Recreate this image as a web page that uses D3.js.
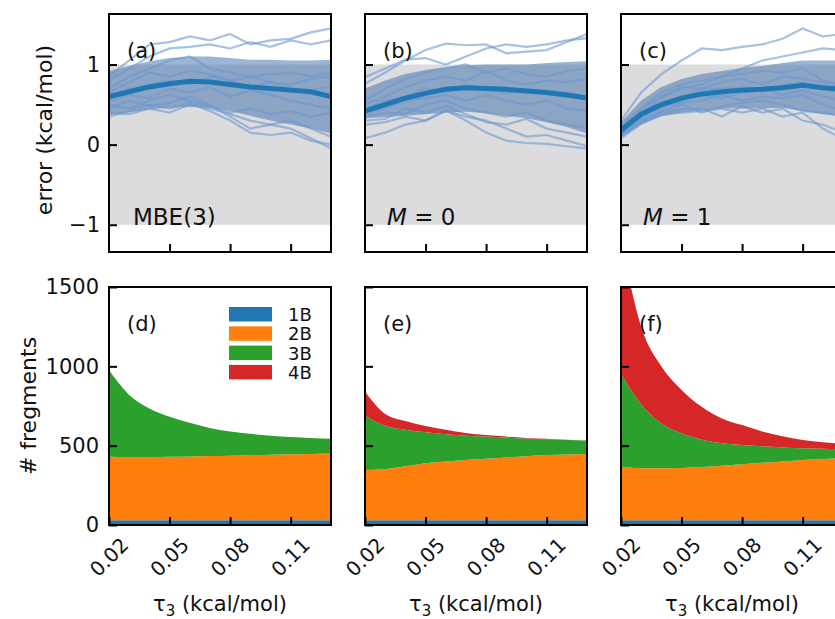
<!DOCTYPE html>
<html>
<head>
<meta charset="utf-8">
<script src="https://cdn.jsdelivr.net/npm/d3@7"></script>
<style>
body { margin: 0; background: #fff; }
text { font-family: "DejaVu Sans", sans-serif; fill: #111; }
</style>
</head>
<body>
<svg width="835" height="619"></svg>
<script>
// thresholds tau_3 (kcal/mol)
var tau = [0.02, 0.03, 0.04, 0.05, 0.06, 0.07, 0.08, 0.09, 0.10, 0.11, 0.12, 0.13];
var xTicks = [0.02, 0.05, 0.08, 0.11];
var errTicks = [-1, 0, 1];
var countTicks = [0, 500, 1000, 1500];
var bodies = ["1B", "2B", "3B", "4B"];
var bodyColors = ["#1f77b4", "#ff7f0e", "#2ca02c", "#d62728"];
var panelTags = ["(a)", "(b)", "(c)"];
var panelTagsBottom = ["(d)", "(e)", "(f)"];
var methods = ["MBE(3)", "M = 0", "M = 1"];

// (a) MBE(3)
var meanA = [0.60, 0.66, 0.72, 0.76, 0.79, 0.78, 0.75, 0.72, 0.70, 0.68, 0.66, 0.60];
var lowA  = [0.37, 0.40, 0.44, 0.46, 0.47, 0.46, 0.42, 0.36, 0.30, 0.25, 0.20, 0.14];
var highA = [0.92, 0.98, 1.04, 1.08, 1.10, 1.10, 1.08, 1.06, 1.06, 1.05, 1.05, 1.06];
var tracesA = [
  [0.85, 1.05, 1.25, 1.28, 1.35, 1.30, 1.38, 1.25, 1.30, 1.32, 1.40, 1.45],
  [0.80, 0.95, 1.10, 1.20, 1.22, 1.25, 1.20, 1.28, 1.22, 1.30, 1.25, 1.30],
  [0.70, 0.85, 0.95, 1.05, 1.10, 0.95, 0.90, 0.85, 0.88, 0.90, 0.85, 0.90],
  [0.65, 0.78, 0.90, 0.85, 0.92, 0.88, 0.80, 0.85, 0.78, 0.75, 0.82, 0.85],
  [0.60, 0.70, 0.75, 0.80, 0.75, 0.85, 0.80, 0.72, 0.78, 0.70, 0.68, 0.72],
  [0.55, 0.62, 0.58, 0.70, 0.65, 0.72, 0.60, 0.68, 0.62, 0.55, 0.50, 0.45],
  [0.50, 0.45, 0.55, 0.62, 0.55, 0.48, 0.40, 0.45, 0.38, 0.42, 0.35, 0.40],
  [0.45, 0.55, 0.48, 0.52, 0.60, 0.50, 0.35, 0.20, 0.25, 0.30, 0.20, 0.10],
  [0.35, 0.42, 0.50, 0.45, 0.52, 0.42, 0.30, 0.15, 0.12, 0.15, 0.05, 0.00],
  [0.40, 0.38, 0.45, 0.40, 0.50, 0.45, 0.38, 0.30, 0.25, 0.20, 0.08, -0.05]
];

// (b) M = 0
var meanB = [0.42, 0.50, 0.58, 0.64, 0.69, 0.71, 0.70, 0.69, 0.67, 0.65, 0.62, 0.58];
var lowB  = [0.33, 0.34, 0.36, 0.38, 0.40, 0.41, 0.39, 0.36, 0.33, 0.28, 0.22, 0.14];
var highB = [0.70, 0.80, 0.88, 0.93, 0.97, 0.99, 1.00, 1.00, 1.00, 1.02, 1.03, 1.04];
var tracesB = [
  [0.76, 0.90, 1.05, 1.18, 1.26, 1.24, 1.25, 1.14, 1.16, 1.18, 1.28, 1.38],
  [0.84, 0.95, 1.06, 1.08, 1.00, 1.10, 1.20, 1.25, 1.22, 1.25, 1.30, 1.33],
  [0.55, 0.70, 0.82, 0.90, 0.95, 1.00, 0.90, 0.95, 0.88, 0.85, 0.92, 0.95],
  [0.50, 0.60, 0.72, 0.80, 0.85, 0.80, 0.92, 0.80, 0.75, 0.80, 0.78, 0.82],
  [0.45, 0.55, 0.60, 0.70, 0.66, 0.75, 0.70, 0.64, 0.70, 0.62, 0.65, 0.60],
  [0.40, 0.45, 0.55, 0.58, 0.62, 0.55, 0.62, 0.55, 0.50, 0.55, 0.45, 0.42],
  [0.35, 0.40, 0.38, 0.50, 0.55, 0.45, 0.40, 0.35, 0.40, 0.30, 0.25, 0.20],
  [0.30, 0.32, 0.45, 0.40, 0.48, 0.38, 0.28, 0.25, 0.32, 0.20, 0.15, 0.10],
  [0.25, 0.28, 0.35, 0.30, 0.42, 0.35, 0.30, 0.20, 0.10, 0.12, 0.05, -0.02],
  [0.08, 0.15, 0.25, 0.30, 0.43, 0.30, 0.15, 0.05, 0.02, 0.01, -0.02, -0.05]
];

// (c) M = 1
var meanC = [0.18, 0.38, 0.50, 0.58, 0.63, 0.66, 0.68, 0.69, 0.71, 0.74, 0.71, 0.69];
var lowC  = [0.10, 0.25, 0.35, 0.40, 0.43, 0.45, 0.45, 0.45, 0.46, 0.42, 0.38, 0.36];
var highC = [0.28, 0.55, 0.72, 0.82, 0.88, 0.92, 0.96, 0.98, 1.02, 1.05, 1.05, 1.05];
var tracesC = [
  [0.30, 0.65, 0.88, 1.05, 1.20, 1.18, 1.22, 1.25, 1.32, 1.45, 1.35, 1.38],
  [0.25, 0.45, 0.60, 0.70, 0.75, 0.85, 0.95, 1.05, 1.10, 1.15, 1.20, 1.18],
  [0.22, 0.45, 0.65, 0.75, 0.80, 0.85, 0.88, 0.92, 0.90, 0.95, 0.80, 0.75],
  [0.20, 0.40, 0.58, 0.72, 0.70, 0.78, 0.82, 0.75, 0.85, 0.82, 0.78, 0.72],
  [0.18, 0.38, 0.50, 0.60, 0.68, 0.70, 0.72, 0.68, 0.74, 0.78, 0.70, 0.65],
  [0.16, 0.36, 0.46, 0.55, 0.62, 0.58, 0.65, 0.70, 0.62, 0.68, 0.60, 0.55],
  [0.14, 0.32, 0.48, 0.52, 0.55, 0.62, 0.55, 0.60, 0.58, 0.62, 0.50, 0.42],
  [0.12, 0.30, 0.42, 0.50, 0.40, 0.48, 0.52, 0.55, 0.50, 0.42, 0.40, 0.35],
  [0.10, 0.28, 0.40, 0.44, 0.45, 0.35, 0.48, 0.40, 0.45, 0.30, 0.25, 0.15],
  [0.08, 0.26, 0.38, 0.40, 0.42, 0.45, 0.40, 0.45, 0.35, 0.40, 0.20, 0.07]
];

// fragment counts per body order
var oneB_d = [30, 30, 30, 30, 30, 30, 30, 30, 30, 30, 30, 30];
var twoB_d = [400, 398, 398, 400, 402, 405, 407, 410, 413, 416, 418, 420];
var threeB_d = [545, 392, 307, 253, 213, 177, 153, 135, 120, 109, 100, 93];
var fourB_d = [0, 0, 0, 0, 0, 0, 0, 0, 0, 0, 0, 0];

var oneB_e = [30, 30, 30, 30, 30, 30, 30, 30, 30, 30, 30, 30];
var twoB_e = [317, 322, 340, 359, 370, 380, 388, 396, 404, 411, 415, 418];
var threeB_e = [342, 273, 230, 195, 172, 153, 139, 125, 111, 99, 91, 84];
var fourB_e = [151, 75, 55, 40, 28, 17, 10, 6, 4, 4, 2, 1];

var oneB_f = [30, 30, 30, 30, 30, 30, 30, 30, 30, 30, 30, 30];
var twoB_f = [338, 327, 327, 330, 336, 344, 353, 362, 371, 380, 386, 390];
var threeB_f = [584, 403, 283, 218, 172, 141, 121, 104, 88, 74, 65, 58];
var fourB_f = [848, 490, 360, 273, 207, 157, 126, 94, 71, 52, 41, 34];

var svg = d3.select("svg");

var lefts = [109, 365, 621],
    pw = 222,
    topY = [14, 252],
    botY = [287, 525];

var errData = [
  {mean: meanA, low: lowA, high: highA, traces: tracesA},
  {mean: meanB, low: lowB, high: highB, traces: tracesB},
  {mean: meanC, low: lowC, high: highC, traces: tracesC}
];
var countData = [
  [oneB_d, twoB_d, threeB_d, fourB_d],
  [oneB_e, twoB_e, threeB_e, fourB_e],
  [oneB_f, twoB_f, threeB_f, fourB_f]
];

var yErr = d3.scaleLinear().domain([-1.34, 1.63]).range([topY[1], topY[0]]);
var yCnt = d3.scaleLinear().domain([0, 1500]).range([botY[1], botY[0]]);

var defs = svg.append("defs");

lefts.forEach(function(left, i) {
  var x = d3.scaleLinear().domain([0.02, 0.13]).range([left, left + pw]);

  defs.append("clipPath").attr("id", "clipT" + i)
    .append("rect").attr("x", left).attr("y", topY[0]).attr("width", pw).attr("height", topY[1] - topY[0]);
  defs.append("clipPath").attr("id", "clipB" + i)
    .append("rect").attr("x", left).attr("y", botY[0]).attr("width", pw).attr("height", botY[1] - botY[0]);

  // ---- top row: error curves
  var d = errData[i];
  var g = svg.append("g").attr("clip-path", "url(#clipT" + i + ")");

  g.append("rect")
    .attr("x", left).attr("width", pw)
    .attr("y", yErr(1)).attr("height", yErr(-1) - yErr(1))
    .attr("fill", "#dcdcde");

  g.append("path")
    .datum(tau)
    .attr("fill", "#4a78b0")
    .attr("fill-opacity", 0.55)
    .attr("d", d3.area()
      .x(function(t) { return x(t); })
      .y0(function(t, j) { return yErr(d.low[j]); })
      .y1(function(t, j) { return yErr(d.high[j]); }));

  var line = function(vals) {
    return d3.line()
      .x(function(t) { return x(t); })
      .y(function(t, j) { return yErr(vals[j]); })(tau);
  };

  g.selectAll(".trace")
    .data(d.traces)
    .enter().append("path")
    .attr("class", "trace")
    .attr("fill", "none")
    .attr("stroke", "#6d98cf")
    .attr("stroke-opacity", 0.6)
    .attr("stroke-width", 2.2)
    .attr("d", line);

  g.append("path")
    .attr("fill", "none")
    .attr("stroke", "#1f77b4")
    .attr("stroke-width", 5)
    .attr("d", line(d.mean));

  var ay = svg.append("g").attr("transform", "translate(" + left + ",0)")
    .call(d3.axisLeft(yErr).tickValues(errTicks).tickSizeInner(-8).tickSizeOuter(0).tickPadding(9)
      .tickFormat(i == 0 ? function(v) { return v < 0 ? "\u2212" + (-v) : v; } : ""));
  ay.select(".domain").remove();
  ay.selectAll("line").attr("stroke", "#000").attr("stroke-width", 2);
  ay.selectAll("text").attr("font-size", 21).attr("font-family", "DejaVu Sans").attr("fill", "#111");

  var axT = svg.append("g").attr("transform", "translate(0," + topY[1] + ")")
    .call(d3.axisBottom(x).tickValues(xTicks.slice(1)).tickSizeInner(-8).tickSizeOuter(0).tickFormat(""));
  axT.select(".domain").remove();
  axT.selectAll("line").attr("stroke", "#000").attr("stroke-width", 2);

  svg.append("rect")
    .attr("x", left).attr("y", topY[0]).attr("width", pw).attr("height", topY[1] - topY[0])
    .attr("fill", "none").attr("stroke", "#000").attr("stroke-width", 2);

  svg.append("text")
    .attr("x", left + 18).attr("y", topY[0] + 44)
    .attr("font-size", 21)
    .text(panelTags[i]);

  var m = svg.append("text")
    .attr("x", left + (i == 0 ? 24 : 22)).attr("y", 225)
    .attr("font-size", 23);
  if (i == 0) {
    m.text(methods[i]);
  } else {
    m.append("tspan").attr("font-style", "italic").text("M");
    m.append("tspan").text(methods[i].slice(1));
  }

  // ---- bottom row: stacked fragment counts
  var rows = tau.map(function(t, j) {
    var r = {tau: t};
    bodies.forEach(function(b, k) { r[b] = countData[i][k][j]; });
    return r;
  });
  var stack = d3.stack().keys(bodies)(rows);

  var gb = svg.append("g").attr("clip-path", "url(#clipB" + i + ")");
  gb.selectAll(".layer")
    .data(stack)
    .enter().append("path")
    .attr("class", "layer")
    .attr("fill", function(s, k) { return bodyColors[k]; })
    .attr("d", d3.area()
      .curve(d3.curveMonotoneX)
      .x(function(p) { return x(p.data.tau); })
      .y0(function(p) { return yCnt(p[0]); })
      .y1(function(p) { return yCnt(p[1]); }));

  var by = svg.append("g").attr("transform", "translate(" + left + ",0)")
    .call(d3.axisLeft(yCnt).tickValues(countTicks).tickSizeInner(-8).tickSizeOuter(0).tickPadding(10)
      .tickFormat(i == 0 ? d3.format("d") : ""));
  by.select(".domain").remove();
  by.selectAll("line").attr("stroke", "#000").attr("stroke-width", 2);
  by.selectAll("text").attr("font-size", 21).attr("font-family", "DejaVu Sans").attr("fill", "#111");

  var bx = svg.append("g").attr("transform", "translate(0," + botY[1] + ")")
    .call(d3.axisBottom(x).tickValues(xTicks).tickSizeInner(-8).tickSizeOuter(0).tickFormat(""));
  bx.select(".domain").remove();
  bx.selectAll("line").attr("stroke", "#000").attr("stroke-width", 2);

  svg.selectAll(".xl" + i)
    .data(xTicks)
    .enter().append("text")
    .attr("class", "xl" + i)
    .attr("font-size", 20)
    .attr("text-anchor", "middle")
    .attr("dy", "0.35em")
    .attr("transform", function(t) { return "translate(" + x(t) + ",557) rotate(-45)"; })
    .text(function(t) { return t.toFixed(2); });

  svg.append("rect")
    .attr("x", left).attr("y", botY[0]).attr("width", pw).attr("height", botY[1] - botY[0])
    .attr("fill", "none").attr("stroke", "#000").attr("stroke-width", 2);

  svg.append("text")
    .attr("x", left + 18).attr("y", botY[0] + 44)
    .attr("font-size", 21)
    .text(panelTagsBottom[i]);

  var xl = svg.append("text")
    .attr("x", left + pw / 2).attr("y", 611)
    .attr("text-anchor", "middle")
    .attr("font-size", 21);
  xl.append("tspan").text("\u03c4");
  xl.append("tspan").attr("font-size", 15).attr("dy", 5).text("3");
  xl.append("tspan").attr("dy", -5).text(" (kcal/mol)");
});

// legend inside (d)
var legend = svg.append("g").selectAll("g")
  .data(bodies)
  .enter().append("g")
  .attr("transform", function(b, k) { return "translate(229," + (307 + k * 19.3) + ")"; });
legend.append("rect")
  .attr("width", 43).attr("height", 14.5)
  .attr("fill", function(b, k) { return bodyColors[k]; });
legend.append("text")
  .attr("x", 59).attr("y", 7.5)
  .attr("dy", "0.36em")
  .attr("font-size", 18)
  .text(function(b) { return b; });

// y axis titles
svg.append("text")
  .attr("transform", "translate(44,130) rotate(-90)")
  .attr("text-anchor", "middle")
  .attr("dy", "0.35em")
  .attr("font-size", 22)
  .text("error (kcal/mol)");

svg.append("text")
  .attr("transform", "translate(28,406) rotate(-90)")
  .attr("text-anchor", "middle")
  .attr("dy", "0.35em")
  .attr("font-size", 22)
  .text("# fregments");
</script>
</body>
</html>
